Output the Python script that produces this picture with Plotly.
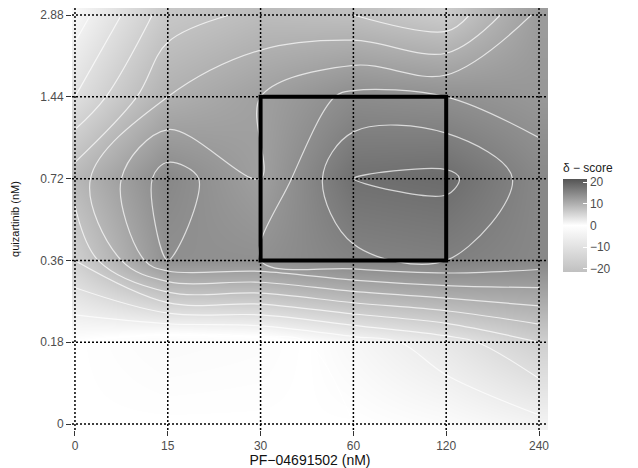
import plotly.graph_objects as go

# Drug concentrations (tick labels) and delta-score matrix (rows: quizartinib, cols: PF-04691502)
pf_labels = ["0", "15", "30", "60", "120", "240"]
quiz_labels = ["0", "0.18", "0.36", "0.72", "1.44", "2.88"]

delta_q0 = [0, 0, 0, 0, 0.5, 1.5]
delta_q018 = [0, -1.5, -1, 1, 3, 6]
delta_q036 = [6, 14, 14, 15.5, 16, 15]
delta_q072 = [9, 15, 12, 18, 18.5, 15]
delta_q144 = [4, 10, 12, 14.5, 14, 13]
delta_q288 = [1, 7, 8.5, 8, 6.5, 12.5]

z = [delta_q0, delta_q018, delta_q036, delta_q072, delta_q144, delta_q288]
xi = list(range(len(pf_labels)))
yi = list(range(len(quiz_labels)))

# colour limits padded a little beyond ±20, as in a ggplot colour guide
zlim = 21.5
colorscale = [[0.0, "#c0c0c0"], [0.5, "#ffffff"], [1.0, "#545454"]]
font_family = "Liberation Sans, Arial, sans-serif"

fig = go.Figure()

fig.add_trace(go.Heatmap(
    x=xi, y=yi, z=z, zsmooth="best",
    colorscale=colorscale, zmin=-zlim, zmax=zlim,
    colorbar=dict(
        title=dict(text="δ − score", side="top", font=dict(size=12, color="#222")),
        thickness=24, thicknessmode="pixels",
        len=112, lenmode="pixels",
        x=1.0315, xanchor="left", xpad=0,
        y=0.64, yanchor="top", ypad=0,
        outlinewidth=0,
        tickvals=[-20, -10, 0, 10, 20],
        ticktext=["−20", "−10", "0", "10", "20"],
        ticks="inside", tickcolor="white", ticklen=4,
        tickfont=dict(size=12, color="#4d4d4d", family=font_family),
    ),
    hoverinfo="skip",
))

fig.add_trace(go.Contour(
    x=xi, y=yi, z=z,
    contours=dict(coloring="none", start=-20, end=20, size=2),
    line=dict(color="rgba(255,255,255,0.7)", width=1.2, smoothing=1),
    showscale=False, hoverinfo="skip",
))

# dotted grid drawn above the surface
shapes = []
for v in xi:
    shapes.append(dict(type="line", xref="x", yref="paper", x0=v, x1=v, y0=0, y1=1,
                       line=dict(color="black", width=1.5, dash="2px,2px"), layer="above"))
for v in yi:
    shapes.append(dict(type="line", xref="paper", yref="y", x0=0, x1=1, y0=v, y1=v,
                       line=dict(color="black", width=1.5, dash="2px,2px"), layer="above"))
# highlighted region
shapes.append(dict(type="rect", xref="x", yref="y", x0=2, x1=4, y0=2, y1=4,
                   line=dict(color="black", width=4), layer="above"))

fig.update_layout(
    width=638, height=468,
    margin=dict(l=72, r=90, t=8, b=38, autoexpand=False),
    paper_bgcolor="white", plot_bgcolor="white",
    font=dict(family=font_family),
    shapes=shapes,
    xaxis=dict(
        range=[-0.032, 5.097], tickvals=xi, ticktext=pf_labels,
        showgrid=False, zeroline=False, ticks="outside", ticklen=5, tickwidth=1,
        tickcolor="#333", tickfont=dict(size=12, color="#4d4d4d"),
        title=dict(text="PF−04691502 (nM)", font=dict(size=14, color="#111"), standoff=1),
    ),
    yaxis=dict(
        range=[-0.073, 5.086], tickvals=yi, ticktext=quiz_labels,
        showgrid=False, zeroline=False, ticks="outside", ticklen=5, tickwidth=1,
        tickcolor="#333", tickfont=dict(size=12, color="#4d4d4d"),
        title=dict(text="quizartinib (nM)", font=dict(size=11, color="#111"), standoff=18),
    ),
)

fig.write_html("out.html")
